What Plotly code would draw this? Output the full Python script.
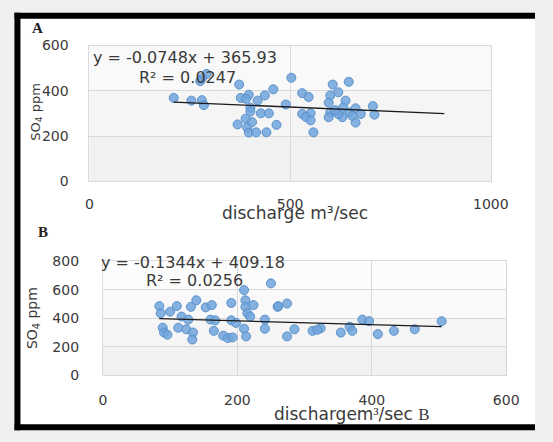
import plotly.graph_objects as go

# ---------------- data ----------------
a_discharge = [210, 254, 280, 285, 292, 280, 276,
               373, 377, 397, 390, 419, 437, 458, 489, 503,
               401, 427, 447, 401, 389, 369, 393, 405, 397, 415, 441, 466,
               530, 546, 530, 551, 539, 551, 558,
               606, 646, 600, 620, 596, 638, 600, 596, 632, 630, 620, 648,
               663, 676, 663, 706, 710, 612, 655]
a_so4 = [369, 357, 359, 337, 475, 455, 443,
         428, 369, 383, 365, 357, 380, 407, 340, 458,
         326, 301, 301, 309, 277, 252, 238, 262, 216, 217, 217, 250,
         390, 373, 298, 301, 285, 270, 217,
         428, 440, 380, 394, 348, 357, 305, 284, 326, 284, 298, 305,
         323, 298, 260, 333, 295, 315, 290]

b_discharge = [84, 86, 100, 110, 131, 139, 153, 162, 191, 210, 212, 212, 224, 215, 219,
               250, 260, 117, 127, 112, 124, 134, 89, 91, 96, 133, 160, 167, 165,
               179, 186, 191, 198, 210, 213, 241, 241, 193,
               261, 274, 274, 285, 312, 324, 319, 354, 367, 371, 386, 396, 409,
               433, 464, 504]
b_so4 = [486, 436, 447, 486, 481, 527, 477, 493, 508, 599, 527, 481, 493, 436, 413,
         646, 481, 413, 391, 334, 323, 300, 334, 300, 285, 251, 391, 386, 312,
         278, 262, 386, 368, 327, 273, 391, 327, 266,
         486, 504, 273, 323, 312, 330, 320, 300, 341, 312, 391, 380, 289,
         312, 323, 380]

a_slope, a_intercept, a_r2 = -0.0748, 365.93, 0.0247
b_slope, b_intercept, b_r2 = -0.1344, 409.18, 0.0256
a_trend_x = [210, 884]
b_trend_x = [84, 504]

a_xticks = [0, 500, 1000]
a_yticks = [0, 200, 400, 600]
b_xticks = [0, 200, 400, 600]
b_yticks = [0, 200, 400, 600, 800]

# ---------------- layout helpers ----------------
W, H = 553, 442
def fx(p):
    return p / W
def fy(p):
    return 1 - p / H

FONT = "DejaVu Sans"
TXT = "#3a3a3a"
GRID = "#d9d9d9"

fig = go.Figure()

marker = dict(size=9, color="rgba(112,165,220,0.85)",
              line=dict(color="#5a92cc", width=1))

fig.add_trace(go.Scatter(x=a_discharge, y=a_so4, mode="markers", marker=marker,
                         xaxis="x", yaxis="y", showlegend=False))
fig.add_trace(go.Scatter(x=a_trend_x, y=[a_slope * v + a_intercept for v in a_trend_x],
                         mode="lines", line=dict(color="#1a1a1a", width=1.4),
                         xaxis="x", yaxis="y", showlegend=False))
fig.add_trace(go.Scatter(x=b_discharge, y=b_so4, mode="markers", marker=marker,
                         xaxis="x2", yaxis="y2", showlegend=False))
fig.add_trace(go.Scatter(x=b_trend_x, y=[b_slope * v + b_intercept for v in b_trend_x],
                         mode="lines", line=dict(color="#1a1a1a", width=1.4),
                         xaxis="x2", yaxis="y2", showlegend=False))

axis_common = dict(showgrid=True, gridcolor=GRID, gridwidth=1, zeroline=False,
                   showline=True, linecolor=GRID, linewidth=1, mirror=True,
                   ticks="", tickfont=dict(family=FONT, size=14, color=TXT))

fig.update_layout(
    width=W, height=H,
    margin=dict(l=0, r=0, t=0, b=0),
    paper_bgcolor="#eef0f1",
    plot_bgcolor="rgba(0,0,0,0)",
    xaxis=dict(domain=[fx(89), fx(507)], range=[0, 1000], tickvals=a_xticks,
               anchor="y", ticklabelstandoff=10, **axis_common),
    yaxis=dict(domain=[fy(180), fy(39)], range=[0, 600], tickvals=a_yticks,
               anchor="x", ticklabelstandoff=17, **axis_common),
    xaxis2=dict(domain=[fx(103), fx(523)], range=[0, 600], tickvals=b_xticks,
                anchor="y2", ticklabelstandoff=12, **axis_common),
    yaxis2=dict(domain=[fy(381), fy(263)], range=[0, 800], tickvals=b_yticks,
                anchor="x2", ticklabelstandoff=20, **axis_common),
)

shapes = [
    # white panel inside the black frame (kept inside the paper)
    dict(type="rect", xref="paper", yref="paper",
         x0=fx(14), x1=1, y0=fy(435), y1=fy(8),
         line=dict(width=0), fillcolor="white", layer="below"),
    # black frame edges: left, top, bottom
    dict(type="line", xref="paper", yref="paper", x0=fx(14), x1=fx(14),
         y0=fy(438), y1=fy(5), line=dict(color="black", width=6), layer="below"),
    dict(type="line", xref="paper", yref="paper", x0=fx(11), x1=1,
         y0=fy(8), y1=fy(8), line=dict(color="black", width=6), layer="below"),
    dict(type="line", xref="paper", yref="paper", x0=fx(11), x1=1,
         y0=fy(435), y1=fy(435), line=dict(color="black", width=6), layer="below"),
]
# subtle gradient of the plot areas, in bands between grid lines
band_cols = ["#f1f1f1", "#f5f5f5", "#f9f9f9", "#fcfcfc", "#fefefe"]
for i in range(len(a_yticks) - 1):
    shapes.append(dict(type="rect", xref="x domain", yref="y",
                       x0=0, x1=1, y0=a_yticks[i], y1=a_yticks[i + 1],
                       line=dict(width=0), fillcolor=band_cols[i], layer="below"))
for i in range(len(b_yticks) - 1):
    shapes.append(dict(type="rect", xref="x2 domain", yref="y2",
                       x0=0, x1=1, y0=b_yticks[i], y1=b_yticks[i + 1],
                       line=dict(width=0), fillcolor=band_cols[i], layer="below"))
fig.update_layout(shapes=shapes)

def ann(text, x, y, size, xanchor="left", angle=0, family=FONT, color=TXT):
    return dict(text=text, x=fx(x), y=fy(y), xref="paper", yref="paper",
                xanchor=xanchor, yanchor="middle", showarrow=False,
                textangle=angle, font=dict(family=family, size=size, color=color))

annotations = [
    ann("<b>A</b>", 27, 21, 15, family="Liberation Serif", color="#1e1e2a"),
    ann("<b>B</b>", 33, 232, 15, family="Liberation Serif", color="#2a2218"),
    ann(f"y = {a_slope}x + {a_intercept}", 91, 51, 16),
    ann(f"R² = {a_r2}", 138, 72, 16),
    ann(f"y = {b_slope}x + {b_intercept}", 99, 264, 16),
    ann(f"R² = {b_r2}", 146, 283, 16),
    ann("SO<sub>4</sub> ppm", 33, 108, 13, xanchor="center", angle=-90),
    ann("SO<sub>4</sub> ppm", 31, 322, 14, xanchor="center", angle=-90),
    ann("discharge m³/sec", 303, 213, 17, xanchor="center"),
    ann("dischargem<span style='font-family:Liberation Serif'>³</span>/sec "
        "<span style='font-family:Liberation Serif'>B</span>",
        362, 421, 17, xanchor="center"),
]
fig.update_layout(annotations=annotations)

fig.write_html("out.html", config={"displayModeBar": False},
               post_script="document.documentElement.style.margin='0px';"
                           "document.body.style.margin='0px';"
                           "document.body.style.overflow='hidden';"
                           "document.body.style.background='#eef0f1';")
